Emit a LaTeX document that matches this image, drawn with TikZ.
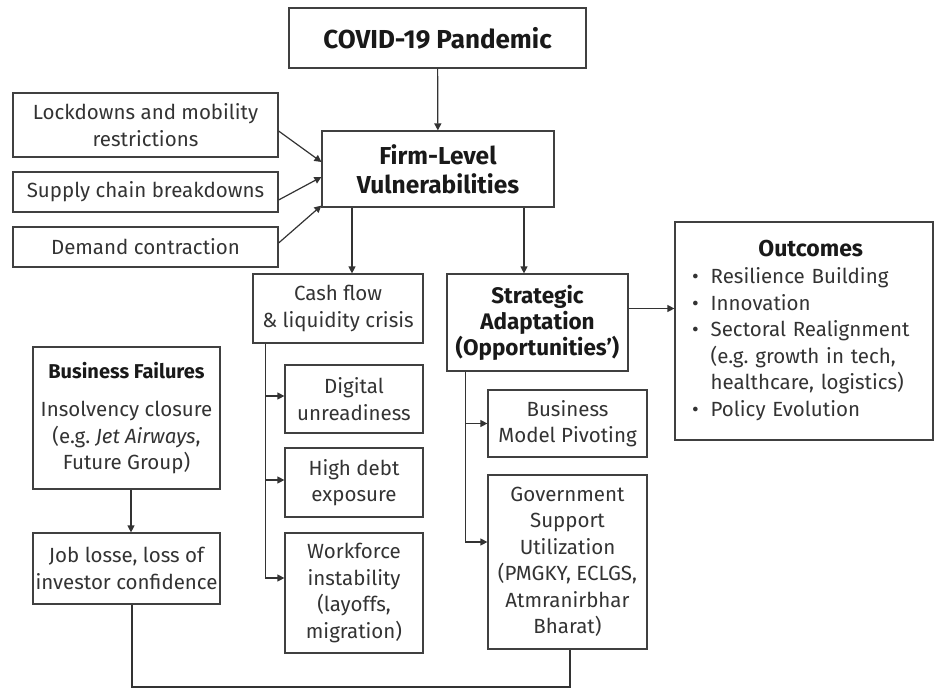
\documentclass[tikz,border=0pt]{standalone}
\usepackage{fontspec}
\setmainfont{Fira Sans}
\usetikzlibrary{arrows.meta}
\frenchspacing

\tikzset{
  box/.style={draw=black!75, line width=1.2pt, inner sep=2pt, align=center,
    text=black!80, font=\fontsize{20.5}{26.5}\selectfont},
  head/.style={font=\fontsize{24.5}{29}\selectfont\bfseries, text=black!90},
  arr/.style={draw=black!80, line width=1.2pt, -{Triangle[length=7pt,width=7pt]}},
  link/.style={draw=black!80, line width=1.2pt}
}

\begin{document}
\begin{tikzpicture}[x=1pt,y=-1pt]
		\useasboundingbox (0,0) rectangle (935,689);

		%top boxes
		\node[box, head, font=\fontsize{26}{29}\selectfont\bfseries, minimum width=297pt, minimum height=60pt] (covid) at (437.5,38) {COVID-19 Pandemic};
		\node[box, head, minimum width=232pt, minimum height=76pt] (firm) at (438,169) {Firm-Level\\Vulnerabilities};

		%causes
		\node[box, minimum width=265pt, minimum height=64pt] (lock) at (145.5,125) {Lockdowns and mobility\\restrictions};
		\node[box, minimum width=265pt, minimum height=40pt] (supply) at (145.5,192) {Supply chain breakdowns};
		\node[box, minimum width=265pt, minimum height=40pt] (demand) at (145.5,247) {Demand contraction};

		%vulnerabilities
		\node[box, minimum width=170pt, minimum height=69pt] (cash) at (338,308.5) {Cash flow\\\& liquidity crisis};
		\node[box, minimum width=138pt, minimum height=68pt] (digital) at (354,399) {Digital\\unreadiness};
		\node[box, minimum width=138pt, minimum height=69pt] (debt) at (354,482.5) {High debt\\exposure};
		\node[box, minimum width=138pt, minimum height=120pt] (work) at (354,593) {Workforce\\instability\\(layoffs,\\migration)};

		%adaptation
		\node[box, minimum width=181pt, minimum height=97pt, font=\fontsize{22.5}{26}\selectfont\bfseries, text=black!90] (strat) at (537.5,322.5) {Strategic\\Adaptation\\(Opportunities')};
		\node[box, minimum width=159pt, minimum height=67pt] (pivot) at (567.5,423.5) {Business\\Model Pivoting};
		\node[box, minimum width=159pt, minimum height=174pt] (gov) at (567.5,562) {Government\\Support\\Utilization\\(PMGKY, ECLGS,\\Atmranirbhar\\Bharat)};

		%outcomes
		\node[box, minimum width=258pt, minimum height=218pt, inner xsep=17pt, text width=224pt, align=left] (outc) at (804,331) {%
		  \begin{tabular}{@{}l@{\hspace{12pt}}l@{}}
		    \multicolumn{2}{c}{\hspace{20pt}\fontsize{23}{26}\selectfont\bfseries\color{black!90}Outcomes}\\[1pt]
		    \textbullet & Resilience Building\\
		    \textbullet & Innovation\\
		    \textbullet & Sectoral Realignment\\
		               & (e.g. growth in tech,\\
		               & healthcare, logistics)\\
		    \textbullet & Policy Evolution
		  \end{tabular}};

		%failures
		\node[box, minimum width=187pt, minimum height=142pt] (fail) at (126.5,418) {{\fontsize{20}{22}\selectfont\bfseries\color{black!90}Business Failures}\\[12pt]Insolvency closure\\(e.g. \textit{Jet Airways},\\Future Group)};
		\node[box, minimum width=187pt, minimum height=71pt] (job) at (126.5,568.5) {Job losse, loss of\\investor confidence};
		\coordinate (base) at (0,687);

		%arrows
		\draw[arr] (covid) -- (firm);
		\draw[arr] ([yshift=-6pt]lock.east) -- ([yshift=7pt]firm.west);
		\draw[arr] ([yshift=-8pt]supply.east) -- ([yshift=-8pt]firm.west);
		\draw[arr] ([yshift=4pt]demand.east) -- ([yshift=2pt]firm.south west);
		\draw[arr] ([xshift=14pt]cash.north |- firm.south) -- ([xshift=14pt]cash.north);
		\draw[arr] ([xshift=-13.5pt]strat.north |- firm.south) -- ([xshift=-13.5pt]strat.north);
		\draw[arr] ([yshift=14pt]strat.east) -- ([yshift=14pt]strat.east -| outc.west);

		\draw[arr] ([xshift=13pt]cash.south west) |- ([yshift=3pt]digital.west);
		\draw[arr] ([xshift=13pt]cash.south west) |- ([yshift=2.5pt]debt.west);
		\draw[arr] ([xshift=13pt]cash.south west) |- ([yshift=15pt]work.west);

		\draw[arr] ([xshift=19pt]strat.south west) |- (pivot.west);
		\draw[arr] ([xshift=19pt]strat.south west) |- ([yshift=20pt]gov.west);

		\draw[arr] ([xshift=4.5pt]fail.south) -- ([xshift=4.5pt]job.north);
		\draw[link] ([xshift=5.5pt]job.south) -- ([xshift=5.5pt]job.south |- base) -| ([xshift=2.5pt]gov.south);

\end{tikzpicture}
\end{document}
